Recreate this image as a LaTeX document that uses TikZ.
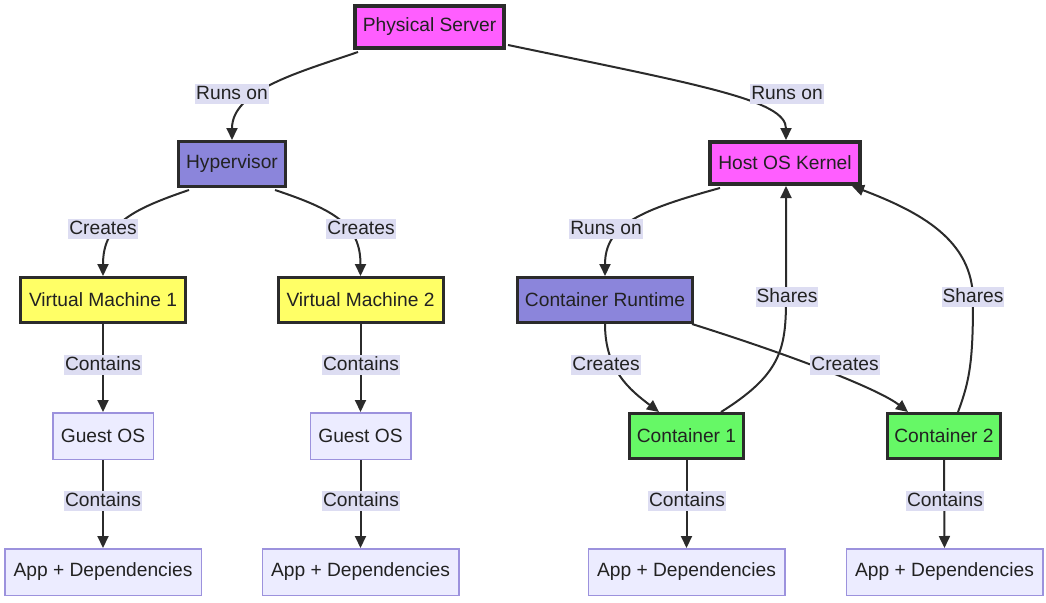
\documentclass[tikz,border=0pt]{standalone}
\usepackage{fontspec}
\setmainfont{Liberation Sans}
\usetikzlibrary{arrows.meta,calc}
\definecolor{ink}{HTML}{2B2B2B}
\definecolor{txt}{HTML}{222222}
\definecolor{mag}{HTML}{FF5EFF}
\definecolor{purp}{HTML}{8B85DB}
\definecolor{yel}{HTML}{FFFF66}
\definecolor{grn}{HTML}{66F866}
\definecolor{lav}{HTML}{ECECFF}
\definecolor{lavline}{HTML}{9C92DD}
\definecolor{lblbg}{HTML}{DDDDF2}
\begin{document}
\begin{tikzpicture}[x=1pt,y=-1pt,
  base/.style={rectangle, inner sep=0pt, text=txt, font=\fontsize{19.2}{22}\selectfont},
  magbox/.style={base, draw=ink, line width=4pt, fill=mag, minimum height=42pt},
  purbox/.style={base, draw=ink, line width=3pt, fill=purp, minimum height=45pt},
  yelbox/.style={base, draw=ink, line width=3pt, fill=yel, minimum height=45pt, minimum width=165pt},
  grnbox/.style={base, draw=ink, line width=3pt, fill=grn, minimum height=45pt},
  lavbox/.style={base, draw=lavline, line width=1.5pt, fill=lav, minimum height=46.5pt},
  lbl/.style={base, fill=lblbg, inner xsep=1pt, inner ysep=1pt, text height=14pt, text depth=4pt},
  edge/.style={draw=ink, line width=2pt, -{Triangle[length=12pt,width=11pt]}}]
\useasboundingbox (0,0) rectangle (1046,602);
% nodes
\node[magbox, minimum width=149pt] (ps) at (429.5,27) {Physical Server};
\node[purbox, minimum width=107pt] (hyp) at (232,164) {Hypervisor};
\node[magbox, minimum width=150pt] (host) at (785,163) {Host OS Kernel};
\node[yelbox] (vm1) at (103,300) {Virtual Machine 1};
\node[yelbox] (vm2) at (360.5,300) {Virtual Machine 2};
\node[purbox, minimum width=175pt] (cr) at (605,300) {Container Runtime};
\node[lavbox, minimum width=100.5pt] (g1) at (103,436) {Guest OS};
\node[lavbox, minimum width=100.5pt] (g2) at (360.5,436) {Guest OS};
\node[grnbox, minimum width=114pt] (c1) at (686.5,436) {Container 1};
\node[grnbox, minimum width=113pt] (c2) at (944,436) {Container 2};
\node[lavbox, minimum width=196.5pt] (a1) at (103,572) {App + Dependencies};
\node[lavbox, minimum width=196.5pt] (a2) at (360.5,572) {App + Dependencies};
\node[lavbox, minimum width=196.5pt] (a3) at (686.5,572) {App + Dependencies};
\node[lavbox, minimum width=196.5pt] (a4) at (944.5,572) {App + Dependencies};
% edges
\draw[edge] ($(ps.south west)+(5,2)$) .. controls (300,72) and (232,90) .. (hyp.north);
\draw[edge] ($(ps.east)+(2,18)$) .. controls (700,85) and (786,100) .. ($(host.north)+(1,0)$);
\draw[edge] ($(hyp.south west)+(12,2)$) .. controls (130,210) and (103,225) .. (vm1.north);
\draw[edge] ($(hyp.south east)+(-12,2)$) .. controls (335,210) and (360.5,225) .. (vm2.north);
\draw[edge] ($(host.south west)+(12,2)$) .. controls (640,210) and (605,225) .. (cr.north);
\draw[edge] (cr.south) .. controls (605,370) and (630,390) .. ($(c1.north west)+(31,0)$);
\draw[edge] ($(cr.south east)+(-2,0)$) .. controls (800,358) and (880,390) .. ($(c2.north west)+(22,0)$);
\draw[edge] ($(c1.north east)+(-24,0)$) .. controls (780,375) and (786,350) .. (786,300) -- ($(host.south)+(1,0)$);
\draw[edge] ($(c2.north east)+(-44,0)$) .. controls (970,380) and (973,360) .. (973,300) .. controls (973,240) and (920,212) .. ($(host.south east)+(-10,0)$);
\draw[edge] (vm1.south) -- (g1.north);
\draw[edge] (vm2.south) -- (g2.north);
\draw[edge] (g1.south) -- (a1.north);
\draw[edge] (g2.south) -- (a2.north);
\draw[edge] (c1.south) -- (a3.north);
\draw[edge] (c2.south) -- (a4.north);
% labels
\node[lbl] (l1) at (232,94) {Runs on};
\node[lbl] (l2) at (787,94) {Runs on};
\node[lbl] (l3) at (103,229) {Creates};
\node[lbl] (l4) at (361,229) {Creates};
\node[lbl] (l5) at (606,229) {Runs on};
\node[lbl] (l6) at (103,365) {Contains};
\node[lbl] (l7) at (361,365) {Contains};
\node[lbl] (l8) at (606,365) {Creates};
\node[lbl] (l9) at (845,365) {Creates};
\node[lbl] (l10) at (787,297) {Shares};
\node[lbl] (l11) at (973,297) {Shares};
\node[lbl] (l12) at (103,501) {Contains};
\node[lbl] (l13) at (361,501) {Contains};
\node[lbl] (l14) at (687,501) {Contains};
\node[lbl] (l15) at (945,501) {Contains};
\end{tikzpicture}
\end{document}
